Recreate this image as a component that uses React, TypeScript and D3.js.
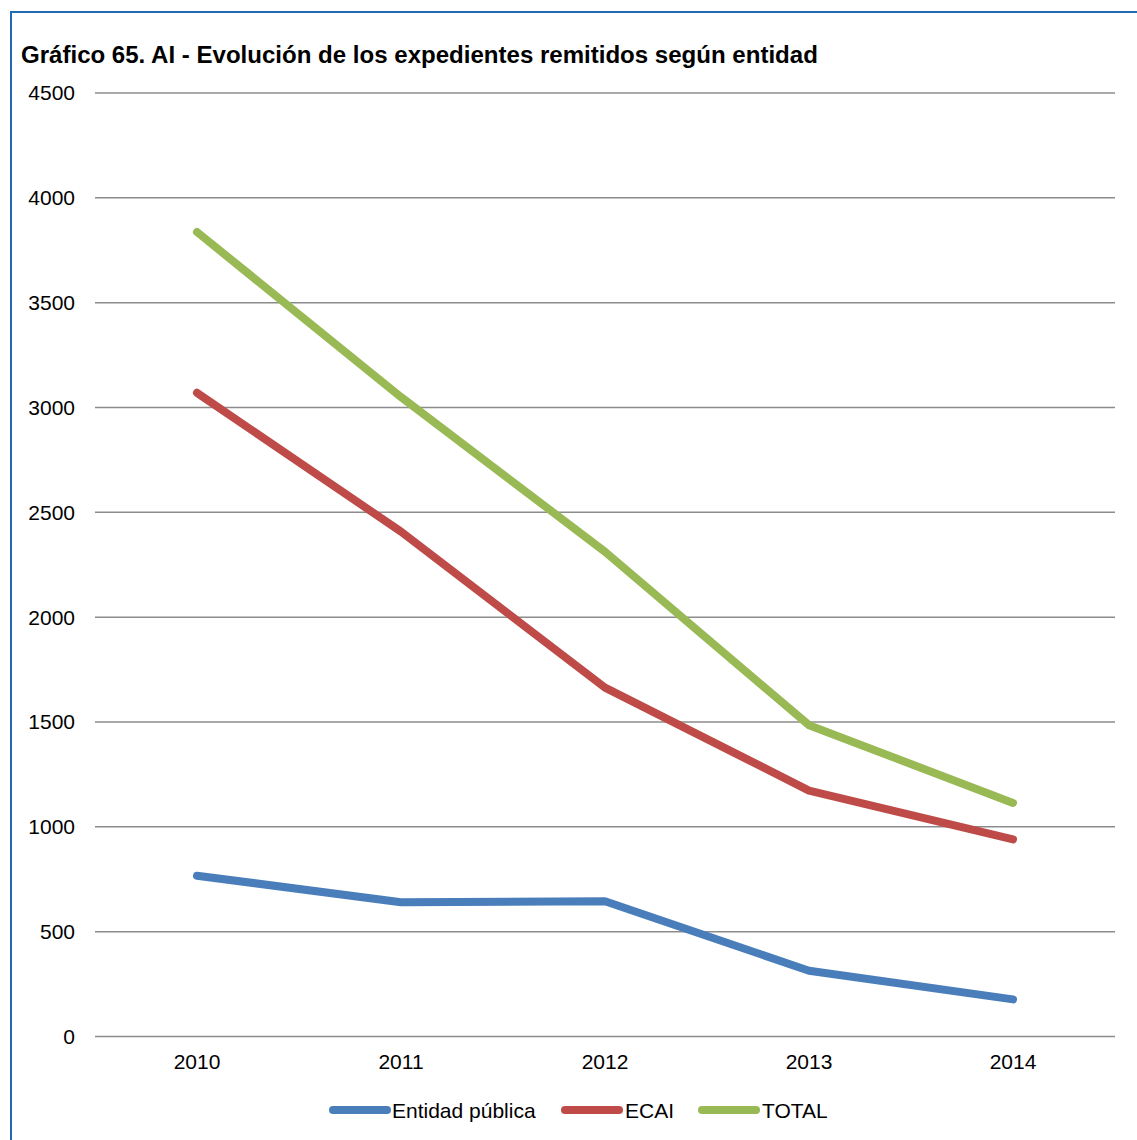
import React from "react";
import * as d3 from "d3";

const title = "Gráfico 65. AI - Evolución de los expedientes remitidos según entidad";
const years = ["2010", "2011", "2012", "2013", "2014"];
const entidadPublica = [767, 640, 645, 314, 177];
const ecai = [3070, 2408, 1664, 1173, 940];
const total = [3837, 3050, 2312, 1485, 1114];
const yTicks = [0, 500, 1000, 1500, 2000, 2500, 3000, 3500, 4000, 4500];

const seriesNames = ["Entidad pública", "ECAI", "TOTAL"];
const seriesColors = ["#4A7EBB", "#BE4B48", "#98B954"];
const seriesValues = [entidadPublica, ecai, total];

const W = 1137;
const H = 1140;
const FONT = "'Liberation Sans', Arial, sans-serif";

export default function App() {
  const x = d3.scaleBand<string>().domain(years).range([95, 1115]);
  const y = d3.scaleLinear().domain([0, 4500]).range([1036.5, 93]);
  const line = d3
    .line<number>()
    .x((_, i) => (x(years[i]) as number) + x.bandwidth() / 2)
    .y((d) => y(d));

  const legendItems = [
    { lx: 333, tx: 392 },
    { lx: 565, tx: 625 },
    { lx: 702, tx: 762 },
  ];

  return (
    <div style={{ position: "absolute", left: 0, top: 0 }}>
      <svg width={W} height={H} style={{ display: "block", background: "#fff" }}>
        <rect x={11} y={12} width={W + 20} height={H + 20} fill="none" stroke="#1F6AB0" strokeWidth={2} />
        <text x={21} y={63} fontFamily={FONT} fontWeight="bold" fontSize={24.05} fill="#000">
          {title}
        </text>
        {yTicks.map((t) => (
          <g key={t}>
            <line x1={95} x2={1115} y1={y(t)} y2={y(t)} stroke="#8C8C8C" strokeWidth={1.5} />
            <text
              x={75}
              y={y(t)}
              dy="0.35em"
              textAnchor="end"
              fontFamily={FONT}
              fontSize={21}
              fill="#000"
            >
              {t}
            </text>
          </g>
        ))}
        {years.map((yr) => (
          <text
            key={yr}
            x={(x(yr) as number) + x.bandwidth() / 2}
            y={1069}
            textAnchor="middle"
            fontFamily={FONT}
            fontSize={21}
            fill="#000"
          >
            {yr}
          </text>
        ))}
        {seriesValues.map((vals, si) => (
          <path
            key={si}
            d={line(vals) as string}
            fill="none"
            stroke={seriesColors[si]}
            strokeWidth={8}
            strokeLinecap="round"
            strokeLinejoin="round"
          />
        ))}
        {seriesNames.map((name, si) => (
          <g key={name}>
            <line
              x1={legendItems[si].lx}
              x2={legendItems[si].lx + 54}
              y1={1110}
              y2={1110}
              stroke={seriesColors[si]}
              strokeWidth={8}
              strokeLinecap="round"
            />
            <text
              x={legendItems[si].tx}
              y={1110}
              dy="0.36em"
              fontFamily={FONT}
              fontSize={21}
              fill="#000"
            >
              {name}
            </text>
          </g>
        ))}
      </svg>
    </div>
  );
}
